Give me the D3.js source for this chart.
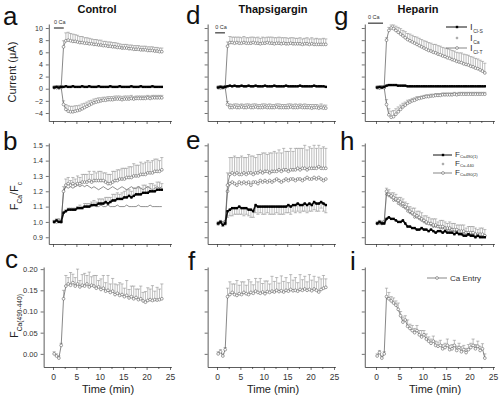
<!DOCTYPE html>
<html>
<head>
<meta charset="utf-8">
<script src="https://cdn.jsdelivr.net/npm/d3@7"></script>
<style>
body { margin: 0; background: #fff; }
text { font-family: "Liberation Sans", Arial, sans-serif; }
</style>
</head>
<body>
<script>
const W = 500, H = 398;

// sample times (min), shared by every trace
const time = [0.25,0.75,1.25,1.75,2.25,2.75,3.25,3.75,4.25,4.75,5.25,5.75,6.25,6.75,7.25,7.75,
  8.25,8.75,9.25,9.75,10.25,10.75,11.25,11.75,12.25,12.75,13.25,13.75,14.25,14.75,15.25,15.75,
  16.25,16.75,17.25,17.75,18.25,18.75,19.25,19.75,20.25,20.75,21.25,21.75,22.25,22.75,23.25];

// ---- currents (uA) ----
const aUp = [0.2,0.2,0.3,0.3,
  6.9,7.9,8.0,7.9,7.8,7.8,7.7,7.6,7.6,7.5,
  7.5,7.4,7.4,7.3,7.3,7.2,7.2,7.1,7.1,7.0,
  7.0,6.9,6.9,6.8,6.8,6.7,6.7,6.7,6.6,6.6,
  6.5,6.5,6.5,6.4,6.4,6.4,6.3,6.3,6.3,6.2,
  6.2,6.1,6.1];
const aUpErr = [0.2,0.2,0.2,0.2,
  1.0,1.3,1.3,1.2,1.2,1.1,1.1,1.0,1.0,0.9,
  0.9,0.9,0.8,0.8,0.8,0.8,0.8,0.7,0.7,0.7,
  0.7,0.7,0.7,0.7,0.6,0.6,0.6,0.6,0.6,0.6,
  0.6,0.6,0.6,0.6,0.6,0.6,0.6,0.6,0.6,0.6,
  0.6,0.6,0.6];
const aMid = [0.2,0.3,0.2,0.3,
  0.3,0.4,0.3,0.3,0.4,0.3,0.3,0.3,0.4,0.3,
  0.3,0.4,0.3,0.3,0.3,0.4,0.3,0.3,0.3,0.3,
  0.4,0.3,0.3,0.3,0.4,0.3,0.3,0.3,0.3,0.4,
  0.3,0.3,0.3,0.4,0.3,0.3,0.3,0.3,0.4,0.3,
  0.3,0.3,0.3];
const aLow = [0.2,0.2,0.1,0.2,
  -2.6,-3.4,-3.7,-3.8,-3.8,-3.7,-3.6,-3.5,-3.3,-3.1,
  -2.9,-2.7,-2.5,-2.3,-2.2,-2.1,-2.0,-1.9,-1.9,-1.8,
  -1.8,-1.8,-1.7,-1.7,-1.7,-1.8,-1.7,-1.7,-1.7,-1.6,
  -1.7,-1.6,-1.6,-1.6,-1.6,-1.6,-1.5,-1.6,-1.5,-1.5,
  -1.5,-1.5,-1.5];
const aLowErr = [0.2,0.2,0.2,0.2,
  0.6,0.8,0.9,0.9,0.9,0.9,0.8,0.8,0.8,0.7,
  0.7,0.7,0.6,0.6,0.6,0.6,0.5,0.5,0.5,0.5,
  0.5,0.5,0.5,0.5,0.5,0.5,0.5,0.5,0.5,0.5,
  0.4,0.4,0.4,0.4,0.4,0.4,0.4,0.4,0.4,0.4,
  0.4,0.4,0.4];

const dUp = [0.2,0.3,0.2,0.3,
  7.0,7.6,7.6,7.5,7.6,7.5,7.5,7.6,7.5,7.5,
  7.5,7.6,7.5,7.5,7.4,7.5,7.5,7.6,7.5,7.5,
  7.4,7.5,7.5,7.4,7.5,7.4,7.4,7.5,7.4,7.4,
  7.4,7.4,7.3,7.4,7.4,7.3,7.4,7.3,7.3,7.3,
  7.3,7.3,7.3];
const dUpErr = [0.2,0.2,0.2,0.2,
  0.7,1.0,0.9,1.0,0.9,1.0,0.9,1.0,0.9,0.9,
  1.0,0.9,0.9,1.0,0.9,1.0,0.9,0.9,1.0,1.0,
  1.0,0.9,1.0,1.0,0.9,1.0,0.9,0.9,1.0,0.9,
  0.9,1.0,0.9,0.9,1.0,0.9,1.0,0.9,1.0,0.9,
  0.9,1.0,0.9];
const dMid = [0.2,0.3,0.2,0.3,
  0.4,0.5,0.4,0.5,0.4,0.4,0.5,0.4,0.4,0.5,
  0.4,0.4,0.5,0.4,0.4,0.4,0.5,0.4,0.4,0.4,
  0.5,0.4,0.4,0.4,0.4,0.5,0.4,0.4,0.4,0.4,
  0.4,0.5,0.4,0.4,0.4,0.4,0.4,0.5,0.4,0.4,
  0.4,0.4,0.3];
const dLow = [0.2,0.1,0.2,0.2,
  -2.6,-3.1,-3.1,-3.0,-3.1,-3.1,-3.0,-3.1,-3.1,-3.0,
  -3.1,-3.1,-3.0,-3.1,-3.1,-3.1,-3.0,-3.1,-3.1,-3.1,
  -3.1,-3.0,-3.1,-3.1,-3.1,-3.1,-3.1,-3.0,-3.1,-3.1,
  -3.1,-3.0,-3.1,-3.1,-3.1,-3.1,-3.2,-3.1,-3.1,-3.2,
  -3.1,-3.2,-3.2];
const dLowErr = [0.2,0.2,0.2,0.2,
  0.5,0.6,0.5,0.5,0.6,0.5,0.5,0.5,0.6,0.5,
  0.5,0.6,0.5,0.5,0.5,0.6,0.5,0.5,0.6,0.5,
  0.5,0.5,0.6,0.5,0.5,0.5,0.6,0.5,0.5,0.6,
  0.5,0.5,0.5,0.6,0.5,0.5,0.6,0.5,0.5,0.5,
  0.6,0.5,0.5];

const gUp = [0.2,0.2,0.3,0.2,
  8.0,9.6,10.0,9.9,9.6,9.3,9.0,8.7,8.4,8.1,
  7.9,7.7,7.5,7.3,7.1,6.9,6.7,6.5,6.3,6.2,
  6.0,5.9,5.7,5.6,5.4,5.3,5.1,5.0,4.8,4.7,
  4.5,4.4,4.3,4.1,4.0,3.9,3.7,3.6,3.4,3.3,
  3.1,2.9,2.6];
const gUpErr = [0.2,0.2,0.2,0.2,
  0.4,0.5,0.5,0.6,0.7,0.8,0.9,0.9,1.0,1.0,
  1.1,1.1,1.1,1.2,1.2,1.2,1.2,1.3,1.3,1.3,
  1.3,1.4,1.4,1.4,1.4,1.4,1.5,1.5,1.5,1.5,
  1.5,1.5,1.6,1.6,1.6,1.6,1.6,1.6,1.6,1.6,
  1.6,1.6,1.6];
const gMid = [0.2,0.3,0.2,0.3,
  0.5,0.6,0.6,0.6,0.6,0.5,0.5,0.5,0.5,0.4,
  0.4,0.4,0.4,0.4,0.4,0.4,0.4,0.4,0.4,0.4,
  0.4,0.4,0.4,0.4,0.4,0.4,0.4,0.4,0.4,0.4,
  0.4,0.4,0.4,0.4,0.4,0.4,0.4,0.4,0.4,0.4,
  0.4,0.4,0.4];
const gLow = [0.2,0.1,0.2,0.2,
  -2.6,-4.3,-4.7,-4.6,-4.2,-3.8,-3.4,-3.0,-2.7,-2.4,
  -2.2,-2.0,-1.9,-1.7,-1.6,-1.5,-1.4,-1.3,-1.3,-1.2,
  -1.2,-1.1,-1.1,-1.1,-1.0,-1.0,-1.0,-1.0,-1.0,-0.9,
  -1.0,-0.9,-0.9,-0.9,-0.9,-0.9,-0.9,-0.9,-0.9,-0.9,
  -0.9,-0.9,-0.9];
const gLowErr = [0.2,0.2,0.2,0.2,
  0.8,1.0,1.0,1.0,0.9,0.8,0.7,0.6,0.5,0.5,
  0.4,0.4,0.4,0.4,0.3,0.3,0.3,0.3,0.3,0.3,
  0.3,0.3,0.3,0.3,0.3,0.3,0.3,0.3,0.3,0.3,
  0.3,0.3,0.3,0.3,0.3,0.3,0.3,0.3,0.3,0.3,
  0.3,0.3,0.3];

// ---- fluorescence ratios ----
const bBlack = [1.00,1.01,1.00,1.00,
  1.06,1.07,1.08,1.08,1.08,1.08,1.09,1.09,1.09,1.10,
  1.10,1.10,1.11,1.11,1.11,1.12,1.12,1.12,1.13,1.12,
  1.13,1.14,1.14,1.15,1.15,1.15,1.16,1.16,1.17,1.16,
  1.17,1.18,1.18,1.18,1.19,1.19,1.19,1.20,1.20,1.20,
  1.21,1.21,1.21];
const bBlackErr = [0.01,0.01,0.01,0.01,
  0.01,0.01,0.01,0.01,0.01,0.01,0.01,0.02,0.01,0.02,
  0.02,0.02,0.02,0.03,0.02,0.03,0.03,0.03,0.03,0.04,
  0.03,0.04,0.04,0.04,0.03,0.04,0.04,0.05,0.04,0.04,
  0.05,0.04,0.05,0.04,0.05,0.05,0.04,0.05,0.05,0.04,
  0.05,0.05,0.04];
const bOpen = [1.00,1.00,1.01,1.00,
  1.20,1.24,1.25,1.24,1.25,1.24,1.25,1.25,1.26,1.26,
  1.26,1.27,1.26,1.27,1.27,1.27,1.27,1.27,1.26,1.25,
  1.25,1.26,1.27,1.27,1.28,1.28,1.28,1.29,1.29,1.29,
  1.30,1.30,1.30,1.31,1.31,1.31,1.32,1.32,1.32,1.33,
  1.33,1.33,1.34];
const bOpenErr = [0.01,0.01,0.01,0.01,
  0.03,0.04,0.04,0.03,0.04,0.04,0.05,0.04,0.05,0.05,
  0.05,0.06,0.05,0.06,0.05,0.06,0.06,0.05,0.06,0.06,
  0.06,0.07,0.06,0.07,0.06,0.07,0.07,0.06,0.07,0.07,
  0.08,0.07,0.07,0.08,0.07,0.08,0.08,0.07,0.08,0.08,
  0.08,0.07,0.08];
const bThinUp = [1.00,1.00,1.00,1.00,
  1.20,1.23,1.22,1.23,1.22,1.23,1.24,1.23,1.24,1.23,
  1.24,1.23,1.22,1.23,1.22,1.21,1.22,1.23,1.22,1.21,
  1.22,1.23,1.22,1.21,1.22,1.23,1.22,1.21,1.22,1.23,
  1.22,1.22,1.23,1.22,1.21,1.22,1.23,1.22,1.21,1.22,
  1.23,1.22,1.23];
const bThinLow = [1.00,1.00,1.00,1.00,
  1.06,1.07,1.08,1.08,1.08,1.08,1.09,1.09,1.09,1.10,
  1.10,1.10,1.10,1.11,1.10,1.10,1.11,1.10,1.10,1.11,
  1.10,1.10,1.10,1.11,1.10,1.10,1.10,1.11,1.10,1.10,
  1.10,1.10,1.11,1.10,1.10,1.10,1.10,1.11,1.10,1.10,
  1.10,1.10,1.10];

const eBlack = [0.99,1.00,0.98,0.99,
  1.07,1.08,1.09,1.09,1.09,1.10,1.09,1.09,1.09,1.08,
  1.08,1.07,1.11,1.10,1.10,1.10,1.10,1.10,1.10,1.10,
  1.10,1.10,1.10,1.10,1.10,1.10,1.11,1.10,1.11,1.11,
  1.12,1.11,1.11,1.12,1.11,1.12,1.11,1.13,1.12,1.12,
  1.13,1.12,1.11];
const eBlackErr = [0.01,0.01,0.01,0.01,
  0.04,0.04,0.05,0.04,0.04,0.05,0.04,0.05,0.04,0.04,
  0.05,0.04,0.05,0.05,0.04,0.05,0.05,0.04,0.05,0.05,
  0.05,0.04,0.05,0.05,0.05,0.04,0.05,0.05,0.04,0.05,
  0.05,0.05,0.04,0.05,0.05,0.05,0.04,0.05,0.05,0.05,
  0.04,0.05,0.05];
const eOpenA = [0.99,1.00,0.99,1.00,
  1.24,1.31,1.32,1.31,1.32,1.31,1.31,1.32,1.31,1.32,
  1.32,1.31,1.32,1.32,1.33,1.32,1.33,1.33,1.32,1.33,
  1.33,1.33,1.34,1.33,1.34,1.34,1.33,1.34,1.34,1.34,
  1.35,1.34,1.35,1.35,1.34,1.35,1.35,1.35,1.35,1.36,
  1.35,1.35,1.35];
const eOpenAErr = [0.01,0.01,0.01,0.01,
  0.08,0.11,0.10,0.12,0.10,0.11,0.12,0.10,0.11,0.12,
  0.11,0.12,0.10,0.12,0.11,0.13,0.12,0.11,0.13,0.12,
  0.13,0.12,0.13,0.12,0.14,0.12,0.13,0.14,0.12,0.14,
  0.13,0.14,0.13,0.15,0.13,0.14,0.13,0.15,0.13,0.14,
  0.13,0.14,0.13];
const eOpenB = [0.99,1.00,0.99,0.99,
  1.20,1.25,1.26,1.25,1.24,1.26,1.25,1.26,1.25,1.26,
  1.24,1.26,1.26,1.25,1.27,1.26,1.27,1.26,1.27,1.26,
  1.27,1.28,1.27,1.26,1.27,1.28,1.27,1.28,1.28,1.27,
  1.28,1.28,1.27,1.28,1.29,1.28,1.28,1.29,1.28,1.29,
  1.28,1.27,1.28];

const hBlack = [0.99,1.00,0.99,0.99,
  1.02,1.03,1.02,1.02,1.01,1.00,1.00,1.01,0.99,0.97,
  0.97,0.96,0.96,0.95,0.95,0.96,0.95,0.95,0.94,0.95,
  0.94,0.93,0.94,0.94,0.93,0.94,0.93,0.93,0.93,0.92,
  0.93,0.92,0.92,0.91,0.91,0.92,0.91,0.91,0.90,0.91,
  0.90,0.90,0.90];
const hOpen = [0.99,1.00,0.99,1.00,
  1.20,1.18,1.17,1.16,1.15,1.14,1.13,1.12,1.10,1.09,
  1.07,1.06,1.05,1.04,1.03,1.02,1.01,1.00,0.99,0.99,
  0.98,0.98,0.97,0.97,0.97,0.96,0.96,0.96,0.95,0.95,
  0.95,0.94,0.94,0.94,0.93,0.93,0.93,0.93,0.92,0.92,
  0.92,0.92,0.91];
const hOpenErr = [0.01,0.01,0.01,0.01,
  0.02,0.03,0.02,0.03,0.03,0.02,0.03,0.03,0.03,0.03,
  0.03,0.03,0.04,0.03,0.04,0.04,0.03,0.04,0.04,0.03,
  0.04,0.04,0.03,0.04,0.04,0.04,0.03,0.04,0.04,0.04,
  0.03,0.04,0.04,0.04,0.03,0.04,0.04,0.04,0.04,0.03,
  0.04,0.04,0.04];
const hDot = [0.99,0.99,1.00,0.99,
  1.18,1.17,1.16,1.14,1.14,1.12,1.11,1.10,1.09,1.07,
  1.06,1.05,1.03,1.03,1.02,1.01,1.00,0.99,0.99,0.98,
  0.97,0.97,0.97,0.96,0.96,0.96,0.95,0.95,0.95,0.94,
  0.94,0.94,0.93,0.93,0.93,0.93,0.92,0.92,0.92,0.91,
  0.91,0.91,0.91];

// ---- Ca entry, F(490-440) ----
const cVal = [0.000,-0.005,-0.010,0.020,
  0.130,0.160,0.165,0.162,0.168,0.160,0.165,0.158,0.162,0.160,
  0.165,0.158,0.162,0.160,0.155,0.158,0.152,0.155,0.148,0.150,
  0.145,0.148,0.140,0.143,0.138,0.140,0.135,0.138,0.132,0.135,
  0.130,0.133,0.128,0.130,0.125,0.122,0.126,0.128,0.126,0.128,
  0.127,0.128,0.130];
const cErr = [0.005,0.005,0.005,0.005,
  0.020,0.025,0.015,0.030,0.020,0.020,0.035,0.015,0.025,0.030,
  0.020,0.035,0.020,0.025,0.030,0.015,0.025,0.030,0.020,0.035,
  0.020,0.030,0.025,0.020,0.030,0.025,0.020,0.035,0.020,0.025,
  0.030,0.020,0.025,0.030,0.020,0.025,0.030,0.025,0.035,0.020,
  0.030,0.025,0.035];
const fVal = [0.000,0.005,-0.005,0.010,
  0.135,0.140,0.145,0.140,0.138,0.142,0.140,0.145,0.142,0.140,
  0.145,0.143,0.148,0.145,0.143,0.146,0.142,0.147,0.145,0.148,
  0.146,0.150,0.147,0.149,0.146,0.150,0.148,0.152,0.149,0.150,
  0.148,0.152,0.150,0.153,0.150,0.152,0.149,0.153,0.150,0.146,
  0.152,0.155,0.157];
const fErr = [0.005,0.005,0.005,0.005,
  0.020,0.030,0.020,0.025,0.035,0.020,0.030,0.025,0.020,0.035,
  0.025,0.020,0.030,0.025,0.035,0.020,0.030,0.025,0.020,0.035,
  0.025,0.030,0.020,0.035,0.025,0.030,0.020,0.035,0.025,0.030,
  0.020,0.035,0.025,0.030,0.020,0.035,0.025,0.030,0.020,0.035,
  0.025,0.030,0.020];
const iVal = [-0.005,0.003,-0.010,0.000,
  0.135,0.130,0.125,0.120,0.115,0.105,0.090,0.075,0.080,0.065,
  0.060,0.055,0.050,0.055,0.045,0.040,0.045,0.035,0.030,0.025,
  0.030,0.020,0.018,0.020,0.012,0.015,0.020,0.010,0.012,0.020,
  0.008,0.015,0.005,0.010,0.003,0.010,0.015,0.020,0.012,0.018,
  0.008,0.012,-0.010];
const iErr = [0.005,0.005,0.005,0.005,
  0.020,0.015,0.010,0.012,0.010,0.015,0.010,0.012,0.010,0.015,
  0.010,0.012,0.010,0.012,0.010,0.015,0.010,0.012,0.010,0.010,
  0.012,0.010,0.010,0.012,0.010,0.010,0.015,0.010,0.010,0.012,
  0.010,0.010,0.012,0.010,0.010,0.012,0.010,0.015,0.010,0.012,
  0.010,0.012,0.010];

// axis ticks
const xTicks = [0,2.5,5,7.5,10,12.5,15,17.5,20,22.5,25];
const currentTicks = [-4,-2,0,2,4,6,8,10];
const ratioTicks = [0.9,1.0,1.1,1.2,1.3,1.4,1.5];
const entryTicks = [0,0.05,0.1,0.15,0.2];

const K = 4.68;                 // px per minute
const colX0 = [53, 217, 376];   // x of t = 0 per column
const rows = [
  {domain: [-5.32, 10.66], range: [121, 24], ticks: currentTicks, fmt: d3.format("d"), fs: 7},
  {domain: [0.856, 1.515], range: [244, 143], ticks: ratioTicks, fmt: d3.format(".1f"), fs: 7},
  {domain: [-0.031, 0.205], range: [367, 267], ticks: entryTicks, fmt: d3.format(".2f"), fs: 7.5}
];

const panels = [
  {letter: "a", col: 0, row: 0, xStart: -0.9, ca: [0.2, 2.3, 10.0], series: [
    {v: aLow, e: aLowErr, kind: "open"},
    {v: aUp, e: aUpErr, kind: "open"},
    {v: aMid, kind: "filled"}]},
  {letter: "d", col: 1, row: 0, ca: [-0.4, 1.7, 9.2], series: [
    {v: dLow, e: dLowErr, kind: "open"},
    {v: dUp, e: dUpErr, kind: "open"},
    {v: dMid, kind: "filled"}]},
  {letter: "g", col: 2, row: 0, xStart: -2.4, ca: [-1.7, 1.5, 10.8], series: [
    {v: gLow, e: gLowErr, kind: "open"},
    {v: gUp, e: gUpErr, kind: "open"},
    {v: gMid, kind: "filled"}]},
  {letter: "b", col: 0, row: 1, xStart: -0.9, series: [
    {v: bThinLow, kind: "thin"},
    {v: bThinUp, kind: "thin"},
    {v: bOpen, e: bOpenErr, kind: "open"},
    {v: bBlack, e: bBlackErr, kind: "filled"}]},
  {letter: "e", col: 1, row: 1, series: [
    {v: eOpenB, kind: "open"},
    {v: eOpenA, e: eOpenAErr, kind: "open"},
    {v: eBlack, e: eBlackErr, dir: -1, kind: "filled"}]},
  {letter: "h", col: 2, row: 1, xStart: -2.4, series: [
    {v: hDot, kind: "small"},
    {v: hOpen, e: hOpenErr, kind: "open"},
    {v: hBlack, kind: "filled"}]},
  {letter: "c", col: 0, row: 2, series: [{v: cVal, e: cErr, kind: "open"}]},
  {letter: "f", col: 1, row: 2, series: [{v: fVal, e: fErr, kind: "open"}]},
  {letter: "i", col: 2, row: 2, xStart: -2.4, series: [{v: iVal, e: iErr, kind: "open"}]}
];

const letterPos = {a: [3, 25], b: [3, 150], c: [5, 268], d: [186, 24], e: [186, 149],
  f: [188, 270], g: [334, 25], h: [340, 150], i: [350, 270]};

const svg = d3.select("body").append("svg")
  .attr("width", W).attr("height", H)
  .style("background", "#fff");

function styleAxis(sel, fs) {
  sel.select(".domain").attr("stroke", "#333").attr("stroke-width", 0.8);
  sel.selectAll(".tick line").attr("stroke", "#333").attr("stroke-width", 0.7);
  sel.selectAll(".tick text").attr("fill", "#333").attr("font-size", fs)
    .attr("font-family", "Liberation Sans, Arial, sans-serif");
}

function drawPanel(p) {
  const r = rows[p.row];
  const x0 = colX0[p.col];
  const xs = p.xStart ?? -2;
  const x = d3.scaleLinear().domain([xs, 25.3]).range([x0 + xs * K, x0 + 25.3 * K]);
  const y = d3.scaleLinear().domain(r.domain).range(r.range);
  const g = svg.append("g");

  const xa = g.append("g").attr("transform", `translate(0,${r.range[0]})`)
    .call(d3.axisBottom(x).tickValues(xTicks).tickSize(3).tickSizeOuter(0)
      .tickFormat(d => (p.row === 2 && d % 5 === 0) ? d : ""));
  xa.selectAll(".tick line").filter(d => d % 5 !== 0).attr("y2", 2);
  xa.selectAll(".tick text").attr("dy", "0.85em");
  styleAxis(xa, 8.5);

  const ya = g.append("g").attr("transform", `translate(${x(xs)},0)`)
    .call(d3.axisLeft(y).tickValues(r.ticks).tickSize(3).tickSizeOuter(0)
      .tickFormat(p.col === 0 ? r.fmt : () => ""));
  styleAxis(ya, r.fs);

  p.series.forEach(s => {
    const pts = time.map((t, i) => ({t: t, v: s.v[i], e: s.e ? s.e[i] : 0}));
    const dir = s.dir || 1;

    // one-sided error bars
    if (s.e) {
      const eb = g.append("g").attr("stroke", "#888").attr("stroke-width", 0.55);
      pts.forEach(d => {
        const y1 = y(d.v), y2 = y(d.v + dir * d.e);
        eb.append("line").attr("x1", x(d.t)).attr("x2", x(d.t)).attr("y1", y1).attr("y2", y2);
        eb.append("line").attr("x1", x(d.t) - 1.6).attr("x2", x(d.t) + 1.6).attr("y1", y2).attr("y2", y2);
      });
    }

    const line = d3.line().x(d => x(d.t)).y(d => y(d.v));
    const st = {
      filled: {stroke: "#111", w: 1.7},
      open: {stroke: "#555", w: 0.7},
      thin: {stroke: "#444", w: 0.6},
      small: {stroke: "#777", w: 0.5}
    }[s.kind];
    g.append("path").datum(pts).attr("d", line).attr("fill", "none")
      .attr("stroke", st.stroke).attr("stroke-width", st.w);

    if (s.kind === "filled") {
      g.selectAll(null).data(pts).join("rect")
        .attr("x", d => x(d.t) - 1.2).attr("y", d => y(d.v) - 1.2)
        .attr("width", 2.4).attr("height", 2.4).attr("fill", "#000");
    } else if (s.kind === "open" || s.kind === "small") {
      g.selectAll(null).data(pts).join("circle")
        .attr("cx", d => x(d.t)).attr("cy", d => y(d.v))
        .attr("r", s.kind === "open" ? 1.4 : 1.0)
        .attr("fill", "#fff").attr("stroke", "#555").attr("stroke-width", 0.55);
    }
  });

  // "0 Ca" bar
  if (p.ca) {
    const [t0, t1, v] = p.ca;
    g.append("line").attr("x1", x(t0)).attr("x2", x(t1)).attr("y1", y(v)).attr("y2", y(v))
      .attr("stroke", "#111").attr("stroke-width", 1);
    g.append("text").attr("x", x(t0)).attr("y", y(v) - 4).attr("font-size", 5.5)
      .attr("fill", "#333").text("0 Ca");
  }

  const lp = letterPos[p.letter];
  svg.append("text").attr("x", lp[0]).attr("y", lp[1]).attr("font-size", 26)
    .attr("fill", "#111").text(p.letter);
}

panels.forEach(drawPanel);

// column titles
[["Control", 97], ["Thapsigargin", 273], ["Heparin", 418]].forEach(([t, cx]) => {
  svg.append("text").attr("x", cx).attr("y", 13).attr("text-anchor", "middle")
    .attr("font-size", 11).attr("font-weight", "bold").attr("fill", "#111").text(t);
});

// y axis labels
function subText(x, y, parts, fs, rotate) {
  const t = svg.append("text").attr("font-size", fs).attr("fill", "#222")
    .attr("text-anchor", "middle")
    .attr("transform", `translate(${x},${y})` + (rotate ? " rotate(-90)" : ""));
  let shift = 0;
  parts.forEach(([s, sub]) => {
    const dy = sub ? 0.35 * fs - shift : -shift;
    shift = sub ? 0.35 * fs : 0;
    t.append("tspan").attr("dy", dy).attr("font-size", sub ? fs * 0.6 : fs).text(s);
  });
  return t;
}
subText(16, 72, [["Current (\u03bcA)", false]], 11, true);
subText(18, 196, [["F", false], ["Ca", true], ["/F", false], ["c", true]], 11, true);
subText(18, 316, [["F", false], ["Ca(490-440)", true]], 11, true);

// time labels
[108, 273, 435].forEach(cx => {
  svg.append("text").attr("x", cx).attr("y", 393).attr("text-anchor", "middle")
    .attr("font-size", 11).attr("fill", "#222").text("Time (min)");
});

// legend g
const legI = [["Cl-S", "filled", 27], ["Ca", "dot", 38], ["Cl-T", "open", 48]];
legI.forEach(([sub, kind, ly]) => {
  if (kind !== "dot") {
    svg.append("line").attr("x1", 446).attr("x2", 467).attr("y1", ly).attr("y2", ly)
      .attr("stroke", kind === "filled" ? "#111" : "#555").attr("stroke-width", kind === "filled" ? 1 : 0.7);
  }
  if (kind === "filled") {
    svg.append("rect").attr("x", 455.8).attr("y", ly - 1.2).attr("width", 2.4).attr("height", 2.4).attr("fill", "#000");
  } else {
    svg.append("circle").attr("cx", 457).attr("cy", ly).attr("r", kind === "open" ? 1.4 : 0.9)
      .attr("fill", "#fff").attr("stroke", "#555").attr("stroke-width", 0.55);
  }
  const t = svg.append("text").attr("x", 470).attr("y", ly + 3).attr("font-size", 9.5)
    .attr("fill", "#333").text("I");
  t.append("tspan").attr("dy", 2.5).attr("dx", 0.5).attr("font-size", 5).text(sub);
});

// legend h
const legF = [["Ca490(1)", "filled", 155], ["Ca-440", "dot", 164], ["Ca490(2)", "open", 173]];
legF.forEach(([sub, kind, ly]) => {
  if (kind !== "dot") {
    svg.append("line").attr("x1", 433).attr("x2", 452).attr("y1", ly).attr("y2", ly)
      .attr("stroke", kind === "filled" ? "#111" : "#555").attr("stroke-width", kind === "filled" ? 1 : 0.7);
  }
  if (kind === "filled") {
    svg.append("rect").attr("x", 441.8).attr("y", ly - 1.2).attr("width", 2.4).attr("height", 2.4).attr("fill", "#000");
  } else {
    svg.append("circle").attr("cx", 443).attr("cy", ly).attr("r", kind === "open" ? 1.4 : 0.9)
      .attr("fill", "#fff").attr("stroke", "#555").attr("stroke-width", 0.55);
  }
  const t = svg.append("text").attr("x", 455).attr("y", ly + 1.5).attr("font-size", 8)
    .attr("fill", "#333").text("F");
  t.append("tspan").attr("dy", 1.8).attr("font-size", 4.3).text(sub);
});

// legend i
svg.append("line").attr("x1", 427).attr("x2", 447).attr("y1", 278).attr("y2", 278)
  .attr("stroke", "#555").attr("stroke-width", 0.7);
svg.append("circle").attr("cx", 437).attr("cy", 278).attr("r", 1.4)
  .attr("fill", "#fff").attr("stroke", "#555").attr("stroke-width", 0.55);
svg.append("text").attr("x", 450).attr("y", 281).attr("font-size", 8)
  .attr("fill", "#333").text("Ca Entry");
</script>
</body>
</html>
